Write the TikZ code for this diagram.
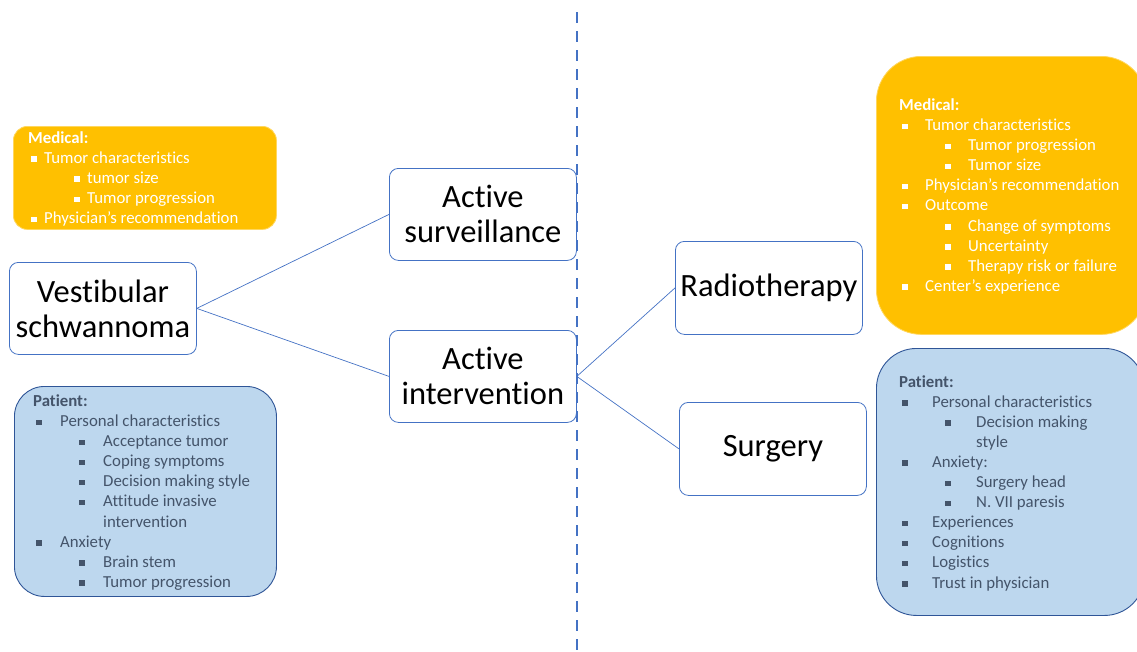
\documentclass[tikz,border=0pt]{standalone}
\usepackage{fontspec}
\setmainfont{Carlito}[Ligatures={TeX,NoCommon}]
\definecolor{accblue}{HTML}{4472C4}
\definecolor{medorange}{HTML}{FFC000}
\definecolor{medline}{HTML}{FFD75E}
\definecolor{patblue}{HTML}{BDD7EE}
\definecolor{patline}{HTML}{2F5597}
\definecolor{pattext}{HTML}{44546A}
\newcommand{\hd}[1]{\textbf{#1}}
\newcommand{\itm}[3]{\hspace*{#1}\rule[1.5pt]{5.5pt}{5.5pt}\hspace*{#2}#3}

\begin{document}
\begin{tikzpicture}[x = 1pt, y = -1pt]
			    \tikzstyle{choice}=[draw=accblue,line width = .8pt,fill=white,rounded corners=9pt,anchor=north west,minimum width=187pt,align=center,font=\fontsize{32.5}{35}\selectfont]
			    \tikzstyle{edge}=[draw,line width = .7pt,-,accblue]
			    \tikzstyle{medical}=[draw=medline,line width = .8pt,fill=medorange,anchor=north west]
			    \tikzstyle{patient}=[draw=patline,line width = .9pt,fill=patblue,anchor=north west]
			    \tikzstyle{listing}=[anchor=west,inner sep=0pt,align=left,font=\fontsize{16.8}{20.1}\selectfont]
			    \useasboundingbox (0,0) rectangle (1137,651);
			    \clip (0,0) rectangle (1137,651);
			    \node[medical,rounded corners=14pt,minimum width=263pt,minimum height=103pt] (medL) at (13,126) {};
			    \node[patient,rounded corners=30pt,minimum width=262pt,minimum height=210pt] (patL) at (14,386) {};
			    \node[medical,rounded corners=45pt,minimum width=270pt,minimum height=278pt] (medR) at (876,56) {};
			    \node[patient,rounded corners=40pt,minimum width=268pt,minimum height=267pt] (patR) at (876,348) {};
			    \node[listing,white] (medLtxt) at ([xshift=15pt,yshift=-1pt]medL.west) {\hd{Medical:}\\
			        \itm{3pt}{7.5pt}{Tumor characteristics}\\
			        \itm{46pt}{7.5pt}{tumor size}\\
			        \itm{46pt}{7.5pt}{Tumor progression}\\
			        \itm{3pt}{7.5pt}{Physician’s recommendation}};
			    \node[listing,pattext] (patLtxt) at ([xshift=19pt,yshift=-1pt]patL.west) {\hd{Patient:}\\
			        \itm{3pt}{18.5pt}{Personal characteristics}\\
			        \itm{46pt}{18.5pt}{Acceptance tumor}\\
			        \itm{46pt}{18.5pt}{Coping symptoms}\\
			        \itm{46pt}{18.5pt}{Decision making style}\\
			        \itm{46pt}{18.5pt}{Attitude invasive}\\
			        \hspace*{70pt}intervention\\
			        \itm{3pt}{18.5pt}{Anxiety}\\
			        \itm{46pt}{18.5pt}{Brain stem}\\
			        \itm{46pt}{18.5pt}{Tumor progression}};
			    \node[listing,white] (medRtxt) at ([xshift=23pt,yshift=-1pt]medR.west) {\hd{Medical:}\\
			        \itm{3pt}{17.5pt}{Tumor characteristics}\\
			        \itm{46pt}{17.5pt}{Tumor progression}\\
			        \itm{46pt}{17.5pt}{Tumor size}\\
			        \itm{3pt}{17.5pt}{Physician’s recommendation}\\
			        \itm{3pt}{17.5pt}{Outcome}\\
			        \itm{46pt}{17.5pt}{Change of symptoms}\\
			        \itm{46pt}{17.5pt}{Uncertainty}\\
			        \itm{46pt}{17.5pt}{Therapy risk or failure}\\
			        \itm{3pt}{17.5pt}{Center’s experience}};
			    \node[listing,pattext] (patRtxt) at ([xshift=23pt,yshift=-1pt]patR.west) {\hd{Patient:}\\
			        \itm{3pt}{24.5pt}{Personal characteristics}\\
			        \itm{46pt}{25.5pt}{Decision making}\\
			        \hspace*{77pt}style\\
			        \itm{3pt}{24.5pt}{Anxiety:}\\
			        \itm{46pt}{25.5pt}{Surgery head}\\
			        \itm{46pt}{25.5pt}{N. VII paresis}\\
			        \itm{3pt}{24.5pt}{Experiences}\\
			        \itm{3pt}{24.5pt}{Cognitions}\\
			        \itm{3pt}{24.5pt}{Logistics}\\
			        \itm{3pt}{24.5pt}{Trust in physician}};
			    \node[choice,minimum height=92pt] (vs) at (9,262) {Vestibular\\schwannoma};
			    \node[choice,minimum height=92pt] (as) at (389,168) {Active\\surveillance};
			    \node[choice,minimum height=92pt] (ai) at (389,330) {Active\\intervention};
			    \node[choice,minimum height=93pt] (rt) at (675,241) {Radiotherapy};
			    \node[choice,minimum height=93pt] (sg) at (679,402) {Surgery};
			    \draw[edge] (vs.east) -- (as.west);
			    \draw[edge] (vs.east) -- (ai.west);
			    \draw[edge] (ai.east) -- (rt.west);
			    \draw[edge] (ai.east) -- (sg.west);
			    \coordinate (divtop) at (577,12);
			    \coordinate (divbot) at (577,651);
			    \draw[accblue,line width = 2.8pt,dash pattern=on 11pt off 8pt] (divtop) -- (divbot);
			\end{tikzpicture}
\end{document}
